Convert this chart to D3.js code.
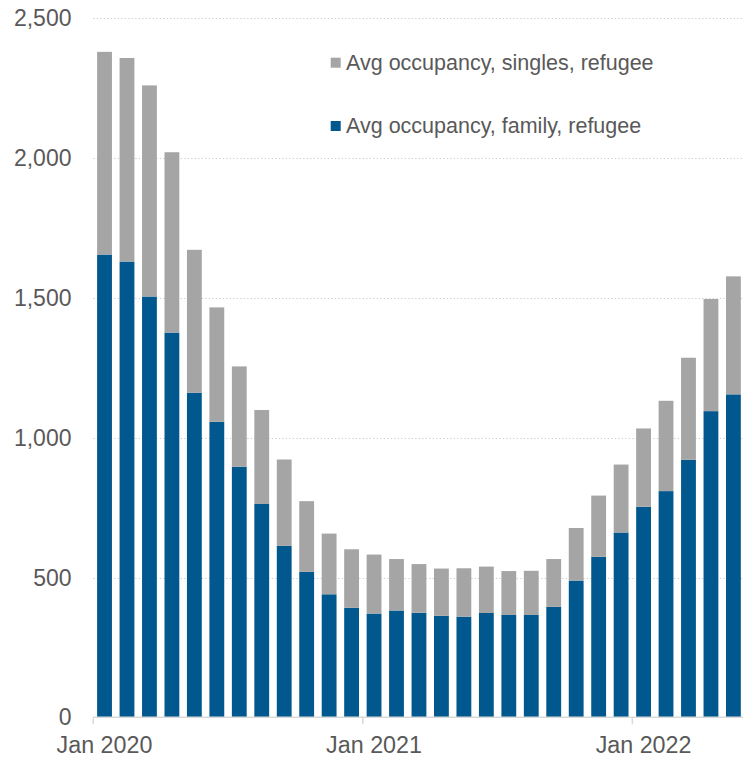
<!DOCTYPE html>
<html>
<head>
<meta charset="utf-8">
<script src="https://cdn.jsdelivr.net/npm/d3@7"></script>
<style>
  html, body { margin: 0; padding: 0; background: #fff; }
  svg { display: block; font-family: "Liberation Sans", Arial, sans-serif; }
</style>
</head>
<body>
<svg id="chart" width="743" height="757"></svg>
<script>
const months = [
  "2020-01","2020-02","2020-03","2020-04","2020-05","2020-06","2020-07","2020-08","2020-09","2020-10","2020-11","2020-12",
  "2021-01","2021-02","2021-03","2021-04","2021-05","2021-06","2021-07","2021-08","2021-09","2021-10","2021-11","2021-12",
  "2022-01","2022-02","2022-03","2022-04","2022-05"
];
const family = [1655,1630,1505,1376,1161,1057,896,763,613,520,440,392,
                371,382,374,363,360,373,366,366,395,489,574,661,
                753,809,921,1095,1155];
const total  = [2380,2358,2260,2021,1672,1466,1255,1099,922,773,657,601,
                582,566,548,532,533,539,523,524,566,677,793,904,
                1033,1132,1286,1496,1577];
const singles = total.map((t, i) => t - family[i]);
const yTicks = [0, 500, 1000, 1500, 2000, 2500];
const xTickLabels = {"2020-01": "Jan 2020", "2021-01": "Jan 2021", "2022-01": "Jan 2022"};
const seriesNames = ["Avg occupancy, singles, refugee", "Avg occupancy, family, refugee"];
const colors = {family: "#01588F", singles: "#A5A5A5"};

(function () {
const svg = d3.select("#chart");
const plotLeft = 93.3, plotBottom = 717.3, plotTop = 18.3;
const x = d3.scaleBand().domain(months).range([plotLeft, plotLeft + 29 * 22.46])
  .paddingInner(0.34).paddingOuter(0.17);
const y = d3.scaleLinear().domain([0, 2500]).range([plotBottom, plotTop]);

// gridlines
svg.append("g").selectAll("line").data(yTicks.filter(d => d > 0)).join("line")
  .attr("x1", plotLeft).attr("x2", 743)
  .attr("y1", d => Math.round(y(d)) + 0.5).attr("y2", d => Math.round(y(d)) + 0.5)
  .attr("stroke", "#c9c9c9").attr("stroke-width", 1).attr("stroke-dasharray", "1.2,2.3");

// y labels
svg.append("g").selectAll("text").data(yTicks).join("text")
  .attr("x", 71.5).attr("y", d => y(d)).attr("dy", "0.35em")
  .attr("text-anchor", "end").attr("font-size", 23).attr("fill", "#595959")
  .text(d => d3.format(",")(d));

// stacked bars
const data = months.map((m, i) => ({m, family: family[i], singles: singles[i]}));
const stack = d3.stack().keys(["family", "singles"])(data);
svg.append("g").selectAll("g").data(stack).join("g")
  .attr("fill", d => colors[d.key])
  .selectAll("rect").data(d => d).join("rect")
  .attr("x", d => x(d.data.m)).attr("width", x.bandwidth())
  .attr("y", d => y(d[1])).attr("height", d => y(d[0]) - y(d[1]));

// x axis line
svg.append("line").attr("x1", plotLeft).attr("x2", 743)
  .attr("y1", plotBottom).attr("y2", plotBottom)
  .attr("stroke", "#d9d9d9").attr("stroke-width", 1.5);
const gap = (x.step() - x.bandwidth()) / 2;
const janMonths = Object.keys(xTickLabels);
svg.append("g").selectAll("line").data(janMonths).join("line")
  .attr("x1", d => x(d) - gap).attr("x2", d => x(d) - gap)
  .attr("y1", plotBottom).attr("y2", plotBottom + 7)
  .attr("stroke", "#d9d9d9").attr("stroke-width", 1.5);
svg.append("g").selectAll("text").data(janMonths).join("text")
  .attr("x", d => x(d) + x.bandwidth() / 2).attr("y", 753.3)
  .attr("text-anchor", "middle").attr("font-size", 23.3).attr("fill", "#595959")
  .text(d => xTickLabels[d]);

// legend
const legend = svg.append("g").selectAll("g").data(seriesNames).join("g")
  .attr("transform", (d, i) => `translate(330.7, ${57.7 + i * 63.3})`);
legend.append("rect").attr("width", 10).attr("height", 10)
  .attr("fill", (d, i) => i === 0 ? colors.singles : colors.family);
legend.append("text").attr("x", 15.3).attr("y", 12.3)
  .attr("font-size", 21.5).attr("fill", "#595959").text(d => d);
})();
</script>
</body>
</html>
